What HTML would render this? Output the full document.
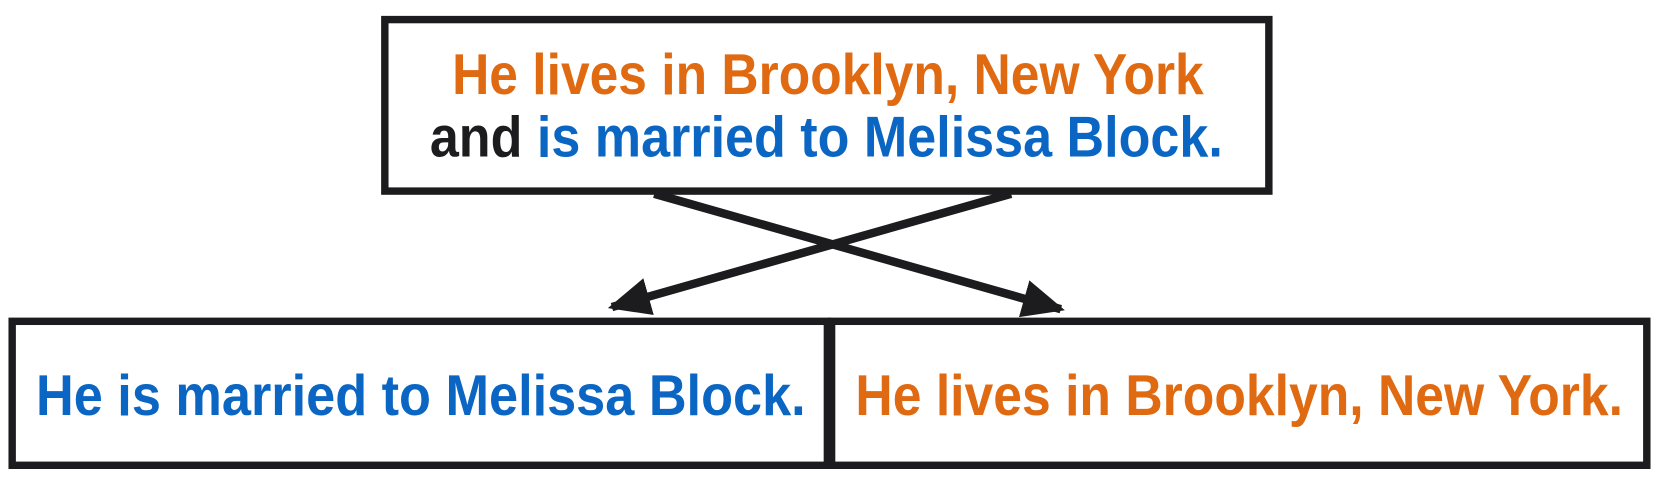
<!DOCTYPE html>
<html><head><meta charset="utf-8"><style>
html,body{margin:0;padding:0;background:#fff;}
svg{display:block;}
text{font-family:"Liberation Sans",Arial,sans-serif;font-weight:bold;font-size:54px;}
</style></head><body>
<svg width="1660" height="486" viewBox="0 0 1660 486">
<defs>
<marker id="ah" viewBox="0 0 10 10" refX="9" refY="5" markerWidth="5" markerHeight="5" orient="auto" markerUnits="strokeWidth">
<path d="M0,0.5 L10,5 L0,9.5 z" fill="#1c1c1e"/>
</marker>
</defs>
<g transform="scale(1.0587)">
<g>
<line x1="618" y1="183" x2="1002" y2="292" stroke="#1c1c1e" stroke-width="8" marker-end="url(#ah)"/>
<line x1="955" y1="183" x2="578" y2="290" stroke="#1c1c1e" stroke-width="8" marker-end="url(#ah)"/>
</g>
<rect x="363.5" y="18.5" width="835" height="162" fill="#fff" stroke="#1c1c1e" stroke-width="7"/>
<text x="427" y="89" textLength="710" lengthAdjust="spacingAndGlyphs" fill="#e06a12">He lives in Brooklyn, New York</text>
<text x="406" y="148" textLength="749" lengthAdjust="spacingAndGlyphs"><tspan fill="#1c1c1e">and </tspan><tspan fill="#0a66c2">is married to Melissa Block.</tspan></text>
<rect x="11.5" y="303.5" width="770" height="136" fill="#fff" stroke="#1c1c1e" stroke-width="7"/>
<rect x="785.5" y="303.5" width="770" height="136" fill="#fff" stroke="#1c1c1e" stroke-width="7"/>
<text x="34" y="392" textLength="727" lengthAdjust="spacingAndGlyphs" fill="#0a66c2">He is married to Melissa Block.</text>
<text x="808" y="392" textLength="725" lengthAdjust="spacingAndGlyphs" fill="#e06a12">He lives in Brooklyn, New York.</text>
</g>
</svg>
</body></html>
